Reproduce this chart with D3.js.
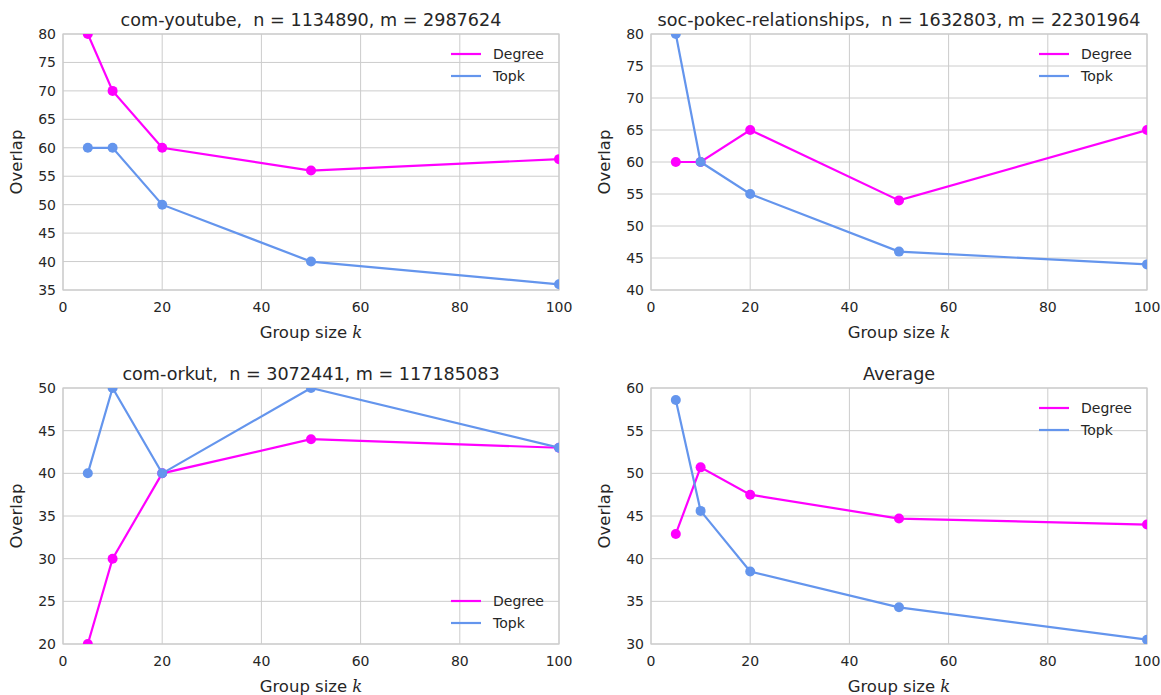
<!DOCTYPE html>
<html>
<head>
<meta charset="utf-8">
<script src="https://cdn.jsdelivr.net/npm/d3@7"></script>
<style>
  body { margin: 0; background: #fff; }
  text { font-family: "DejaVu Sans", sans-serif; fill: #262626; white-space: pre; }
</style>
</head>
<body>
<div id="chart"></div>
<script>
// group sizes on the x axis
var groupSizes = [5, 10, 20, 50, 100];
var xTicks = [0, 20, 40, 60, 80, 100];

var titles = [
  "com-youtube,  n = 1134890, m = 2987624",
  "soc-pokec-relationships,  n = 1632803, m = 22301964",
  "com-orkut,  n = 3072441, m = 117185083",
  "Average"
];

var degreeYoutube = [80, 70, 60, 56, 58];
var topkYoutube = [60, 60, 50, 40, 36];
var degreePokec = [60, 60, 65, 54, 65];
var topkPokec = [80, 60, 55, 46, 44];
var degreeOrkut = [20, 30, 40, 44, 43];
var topkOrkut = [40, 50, 40, 50, 43];
var degreeAverage = [42.9, 50.7, 47.5, 44.7, 44.0];
var topkAverage = [58.6, 45.6, 38.5, 34.3, 30.5];

var yDomains = [[35, 80], [40, 80], [20, 50], [30, 60]];
var legendPos = ["top", "top", "bottom", "top"];

var seriesNames = ["Degree", "Topk"];
var colors = ["#ff00ff", "#6495ed"];

var panels = [
  [degreeYoutube, topkYoutube],
  [degreePokec, topkPokec],
  [degreeOrkut, topkOrkut],
  [degreeAverage, topkAverage]
];

var W = 1161, H = 695;
var svg = d3.select("#chart").append("svg")
  .attr("width", W).attr("height", H);

var plotW = 496, plotH = 256;
var origins = [[63, 34], [651, 34], [63, 388], [651, 388]];

panels.forEach(function(series, p) {
  var ox = origins[p][0], oy = origins[p][1];
  var g = svg.append("g").attr("transform", "translate(" + ox + "," + oy + ")");

  var x = d3.scaleLinear().domain([0, 100]).range([0, plotW]);
  var y = d3.scaleLinear().domain(yDomains[p]).range([plotH, 0]);
  var yTicks = d3.range(yDomains[p][0], yDomains[p][1] + 1, 5);

  // grid
  g.selectAll(".gx").data(xTicks).enter().append("line")
    .attr("x1", d => x(d)).attr("x2", d => x(d))
    .attr("y1", 0).attr("y2", plotH)
    .attr("stroke", "#cccccc").attr("stroke-width", 1);
  g.selectAll(".gy").data(yTicks).enter().append("line")
    .attr("x1", 0).attr("x2", plotW)
    .attr("y1", d => y(d)).attr("y2", d => y(d))
    .attr("stroke", "#cccccc").attr("stroke-width", 1);
  g.append("rect").attr("width", plotW).attr("height", plotH)
    .attr("fill", "none").attr("stroke", "#cccccc").attr("stroke-width", 1.2);

  // tick labels
  g.selectAll(".tx").data(xTicks).enter().append("text")
    .attr("x", d => x(d)).attr("y", plotH + 22)
    .attr("text-anchor", "middle").attr("font-size", 14)
    .text(d => d);
  g.selectAll(".ty").data(yTicks).enter().append("text")
    .attr("x", -7).attr("y", d => y(d) + 5)
    .attr("text-anchor", "end").attr("font-size", 14)
    .text(d => d);

  // title and labels
  g.append("text").attr("x", plotW / 2).attr("y", -8)
    .attr("text-anchor", "middle").attr("font-size", 17.6)
    .text(titles[p]);
  var xl = g.append("text").attr("x", plotW / 2).attr("y", plotH + 48)
    .attr("text-anchor", "middle").attr("font-size", 16.5);
  xl.append("tspan").text("Group size ");
  xl.append("tspan").attr("font-style", "italic")
    .attr("font-family", "DejaVu Serif, serif").text("k");
  g.append("text")
    .attr("transform", "translate(-41," + (plotH / 2) + ") rotate(-90)")
    .attr("text-anchor", "middle").attr("font-size", 16.5)
    .text("Overlap");

  // clip
  var clipId = "clip" + p;
  g.append("clipPath").attr("id", clipId).append("rect")
    .attr("width", plotW).attr("height", plotH);
  var inner = g.append("g").attr("clip-path", "url(#" + clipId + ")");

  var line = d3.line().x((d, i) => x(groupSizes[i])).y(d => y(d));
  series.forEach(function(vals, s) {
    inner.append("path").datum(vals)
      .attr("d", line).attr("fill", "none")
      .attr("stroke", colors[s]).attr("stroke-width", 2.2);
    inner.selectAll(".pt" + s).data(vals).enter().append("circle")
      .attr("cx", (d, i) => x(groupSizes[i])).attr("cy", d => y(d))
      .attr("r", 5).attr("fill", colors[s]);
  });

  // legend
  var ly = legendPos[p] === "top" ? 20 : 213;
  seriesNames.forEach(function(name, s) {
    var yy = ly + s * 22;
    g.append("line").attr("x1", 388).attr("x2", 418)
      .attr("y1", yy).attr("y2", yy)
      .attr("stroke", colors[s]).attr("stroke-width", 2.2);
    g.append("text").attr("x", 430).attr("y", yy + 5)
      .attr("font-size", 14).text(name);
  });
});
</script>
</body>
</html>
